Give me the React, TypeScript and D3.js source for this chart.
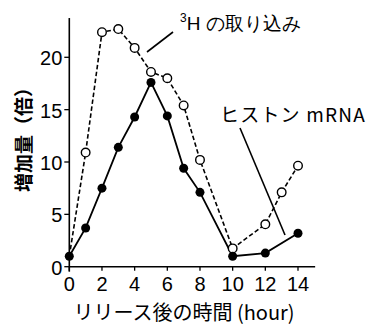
import { useEffect, useRef } from 'react';
import * as d3 from 'd3';

// time after release (hour)
const hoursH3 = [0, 1, 2, 3, 4, 5, 6, 7, 8, 10, 12, 13, 14];
const valuesH3 = [1, 10.9, 22.4, 22.7, 20.9, 18.6, 18.0, 15.4, 10.2, 1.75, 4.05, 7.1, 9.65];
const hoursMRNA = [0, 1, 2, 3, 4, 5, 6, 7, 8, 10, 12, 14];
const valuesMRNA = [1, 3.7, 7.5, 11.4, 14.3, 17.6, 14.4, 9.4, 7.1, 1.0, 1.3, 3.2];
const xTicks = [0, 2, 4, 6, 8, 10, 12, 14];
const yTicks = [0, 5, 10, 15, 20];

const W = 371;
const H = 329;
const jpFont = '"Noto Sans CJK JP", sans-serif';
const numFont = '"Liberation Sans Narrow", "Arial Narrow", "Liberation Sans", sans-serif';

export default function App() {
    const svgRef = useRef<SVGSVGElement>(null);

    useEffect(() => {
        const svg = d3.select(svgRef.current);
        svg.selectAll('*').remove();

        const x = d3.scaleLinear().domain([0, 14]).range([69.3, 298]);
        const y = d3.scaleLinear().domain([0, 20]).range([266.7, 57.3]);

        const g = svg.append('g');

        // axes
        g.append('line')
            .attr('x1', x(0)).attr('x2', x(15.05))
            .attr('y1', y(0)).attr('y2', y(0))
            .attr('stroke', '#000').attr('stroke-width', 1.6);
        g.append('line')
            .attr('x1', x(0)).attr('x2', x(0))
            .attr('y1', y(0) + 5).attr('y2', y(23.75))
            .attr('stroke', '#000').attr('stroke-width', 1.6);

        yTicks.forEach(t => {
            g.append('line')
                .attr('x1', x(0) - 5).attr('x2', x(0))
                .attr('y1', y(t)).attr('y2', y(t))
                .attr('stroke', '#000').attr('stroke-width', 1.3);
            g.append('text')
                .attr('x', x(0) - 7).attr('y', y(t) + 1)
                .attr('text-anchor', 'end')
                .attr('dominant-baseline', 'central')
                .attr('font-family', numFont)
                .attr('font-size', 20)
                .text(t);
        });

        xTicks.forEach(t => {
            g.append('line')
                .attr('x1', x(t)).attr('x2', x(t))
                .attr('y1', y(0)).attr('y2', y(0) + 4)
                .attr('stroke', '#000').attr('stroke-width', 1.3);
            g.append('text')
                .attr('x', x(t)).attr('y', 291)
                .attr('text-anchor', 'middle')
                .attr('font-family', numFont)
                .attr('font-size', 20)
                .text(t);
        });

        // axis titles
        g.append('text')
            .attr('x', 184).attr('y', 320)
            .attr('text-anchor', 'middle')
            .attr('font-family', jpFont)
            .attr('font-size', 20)
            .text('リリース後の時間 (hour)');
        g.append('text')
            .attr('transform', 'translate(31,135) rotate(-90)')
            .attr('text-anchor', 'middle')
            .attr('font-family', jpFont)
            .attr('font-size', 19)
            .attr('font-weight', 'bold')
            .text('増加量（倍）');

        const line = d3.line<[number, number]>()
            .x(d => x(d[0]))
            .y(d => y(d[1]));

        const h3: [number, number][] = hoursH3.map((h, i) => [h, valuesH3[i]]);
        const mrna: [number, number][] = hoursMRNA.map((h, i) => [h, valuesMRNA[i]]);

        g.append('path')
            .datum(h3)
            .attr('fill', 'none')
            .attr('stroke', '#000')
            .attr('stroke-width', 1.6)
            .attr('stroke-dasharray', '4.5,2.5')
            .attr('d', line);

        g.append('path')
            .datum(mrna)
            .attr('fill', 'none')
            .attr('stroke', '#000')
            .attr('stroke-width', 1.8)
            .attr('d', line);

        g.selectAll('circle.open')
            .data(h3.slice(1))
            .enter()
            .append('circle')
            .attr('cx', d => x(d[0]))
            .attr('cy', d => y(d[1]))
            .attr('r', 4.3)
            .attr('fill', '#fff')
            .attr('stroke', '#000')
            .attr('stroke-width', 1.4);

        g.selectAll('circle.filled')
            .data(mrna)
            .enter()
            .append('circle')
            .attr('cx', d => x(d[0]))
            .attr('cy', d => y(d[1]))
            .attr('r', 4.5)
            .attr('fill', '#000');

        // labels with leader lines
        const lab = g.append('text')
            .attr('x', 180).attr('y', 30)
            .attr('font-family', jpFont)
            .attr('font-size', 19);
        lab.append('tspan').attr('font-size', 12).attr('dy', -8).attr('font-family', numFont).text('3');
        lab.append('tspan').attr('dy', 8).attr('font-family', '"Liberation Sans", sans-serif').text('H の取り込み');
        g.append('line')
            .attr('x1', 173).attr('y1', 32).attr('x2', 147).attr('y2', 52)
            .attr('stroke', '#000').attr('stroke-width', 1.6);

        g.append('text')
            .attr('x', 220).attr('y', 122)
            .attr('font-family', jpFont)
            .attr('font-size', 19)
            .attr('letter-spacing', 1.2)
            .text('ヒストン mRNA');
        g.append('line')
            .attr('x1', 240).attr('y1', 128).attr('x2', 285).attr('y2', 235)
            .attr('stroke', '#000').attr('stroke-width', 1.6);
    }, []);

    return (
        <svg
            ref={svgRef}
            width={W}
            height={H}
            style={{ position: 'absolute', left: 0, top: 0, background: '#fff' }}
        />
    );
}
